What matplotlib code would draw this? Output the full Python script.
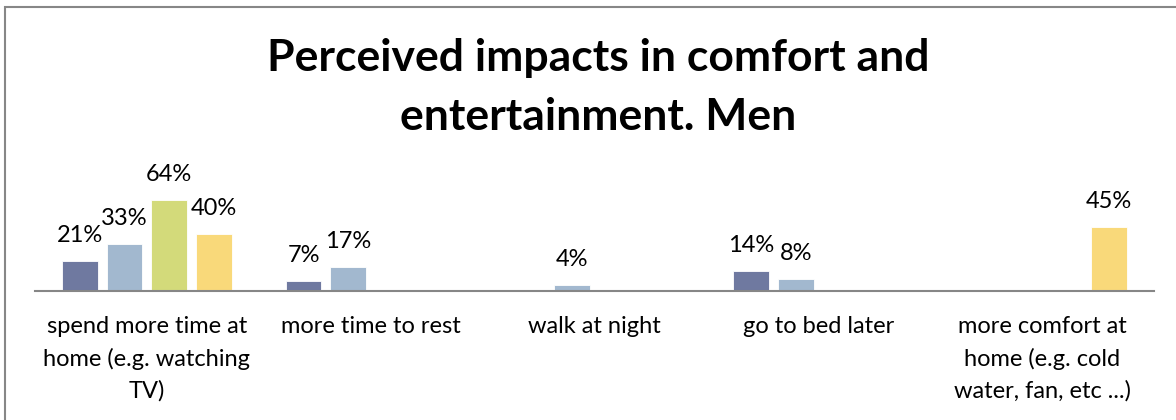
import matplotlib.pyplot as plt
from matplotlib.patches import Rectangle
import numpy as np

# Survey data (share of respondents), None = no bar
categories = ['spend more time at\nhome (e.g. watching\nTV)',
              'more time to rest',
              'walk at night',
              'go to bed later',
              'more comfort at\nhome (e.g. cold\nwater, fan, etc ...)']
series_a = [0.21, 0.07, None, 0.14, None]
series_b = [0.33, 0.17, 0.04, 0.08, None]
series_c = [0.64, None, None, None, None]
series_d = [0.40, None, None, None, 0.45]

colors = ['#6F79A0', '#A2B8CF', '#D3DA7A', '#F9D97A']
title_lines = ['Perceived impacts in comfort and', 'entertainment. Men']

plt.rcParams['font.family'] = ['Lato', 'DejaVu Sans']

W, H = 1176, 420
fig = plt.figure(figsize=(W / 100, H / 100), dpi=100)
ax = fig.add_axes([35 / W, 1 - 290.7 / H, (1154 - 35) / W, 100.7 / H])

x = np.arange(len(categories)) + 0.5
width = 0.16
step = 0.2
for k, (vals, col) in enumerate(zip([series_a, series_b, series_c, series_d], colors)):
    for i, v in enumerate(vals):
        if v is None:
            continue
        xp = x[i] + (k - 1.5) * step
        ax.bar(xp, v, width, color=col, edgecolor='white', linewidth=0.6)
        ax.annotate(f'{v:.0%}', (xp, v), xytext=(0, 15), textcoords='offset pixels',
                    ha='center', va='bottom', fontsize=17, color='black')

ax.set_xlim(0, 5)
ax.set_ylim(0, 0.71)
ax.set_xticks(x)
ax.set_xticklabels(categories, fontsize=17, linespacing=1.6)
ax.tick_params(axis='x', length=0, pad=18)
ax.set_yticks([])
for s in ['top', 'right', 'left']:
    ax.spines[s].set_visible(False)
ax.spines['bottom'].set_color('#868686')
ax.spines['bottom'].set_linewidth(1.5)

# two-line bold title
for line, base in zip(title_lines, [70.7, 130]):
    fig.text(598 / W, 1 - base / H, line, ha='center', va='baseline',
             fontsize=32, fontweight='bold')

# chart border (left and top edges)
fig.patches.append(Rectangle((5 / W, -0.5), 2, 1.5 - 7 / H, transform=fig.transFigure,
                             fill=False, edgecolor='#878787', linewidth=1.5))

fig.savefig('out.png', dpi=100)
